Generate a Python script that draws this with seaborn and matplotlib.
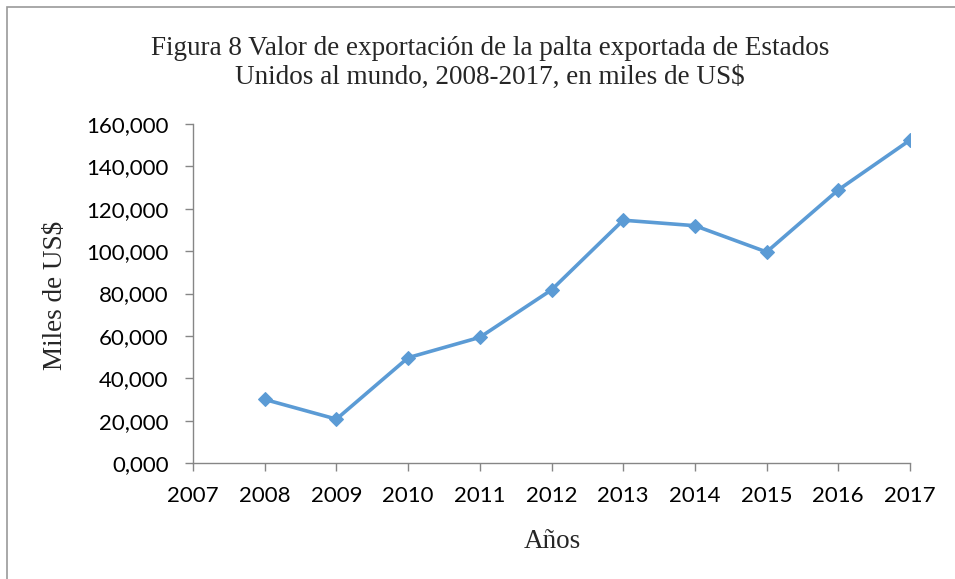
import numpy as np
import pandas as pd
import seaborn as sns
import matplotlib.pyplot as plt
from matplotlib.ticker import FuncFormatter
from matplotlib.patches import Rectangle

# datos (miles de US$)
years = [2008, 2009, 2010, 2011, 2012, 2013, 2014, 2015, 2016, 2017]
values = [30000, 20700, 49700, 59300, 81700, 114600, 112000, 99600, 128900, 152400]
xticks = list(range(2007, 2018))
yticks = [0, 20000, 40000, 60000, 80000, 100000, 120000, 140000, 160000]

title = "Figura 8 Valor de exportación de la palta exportada de Estados\nUnidos al mundo, 2008-2017, en miles de US$"

sns.set_theme(style="white")
plt.rcParams['font.family'] = ['Lato', 'DejaVu Sans']

df = pd.DataFrame({'Año': years, 'Valor': values})

fig = plt.figure(figsize=(9.55, 5.79), dpi=100)
ax = fig.add_axes([193/955, 1 - 463/579, (910-193)/955, (463-124)/579])

sns.lineplot(data=df, x='Año', y='Valor', ax=ax, color='#5B9BD5', linewidth=2.6,
             marker='D', markersize=7, markeredgecolor='#5B9BD5')

ax.set_xlim(2007, 2017)
ax.set_ylim(0, 160000)
ax.set_xticks(xticks)
ax.set_yticks(yticks)
ax.yaxis.set_major_formatter(FuncFormatter(lambda v, p: format(int(v), '05,')))
ax.tick_params(axis='both', labelsize=16, colors='#868686', labelcolor='black',
               length=5.5, width=1, direction='out', bottom=True, left=True)
ax.tick_params(axis='x', pad=11)
ax.tick_params(axis='y', pad=12)

for s in ['top', 'right']:
    ax.spines[s].set_visible(False)
for s in ['left', 'bottom']:
    ax.spines[s].set_color('#868686')
    ax.spines[s].set_linewidth(1)

ax.set_xlabel('')
ax.set_ylabel('')
ax.grid(False)

fig.text(490/955, 1 - 63/579, title, ha='center', va='center', fontsize=19.5,
         family='Liberation Serif', linespacing=1.25)
fig.text(55/955, 1 - 295/579, 'Miles de US$', ha='center', va='center', rotation=90,
         fontsize=19.5, family='Liberation Serif')
fig.text(552/955, 1 - 541/579, 'Años', ha='center', va='center', fontsize=19.5,
         family='Liberation Serif')

# borde del area del grafico
fig.patches.append(Rectangle((7/955, -0.05), 1.0, 1 - 7/579 + 0.05, transform=fig.transFigure,
                             fill=False, edgecolor='#9a9a9a', linewidth=1.2))

fig.savefig('out.png', dpi=100)
